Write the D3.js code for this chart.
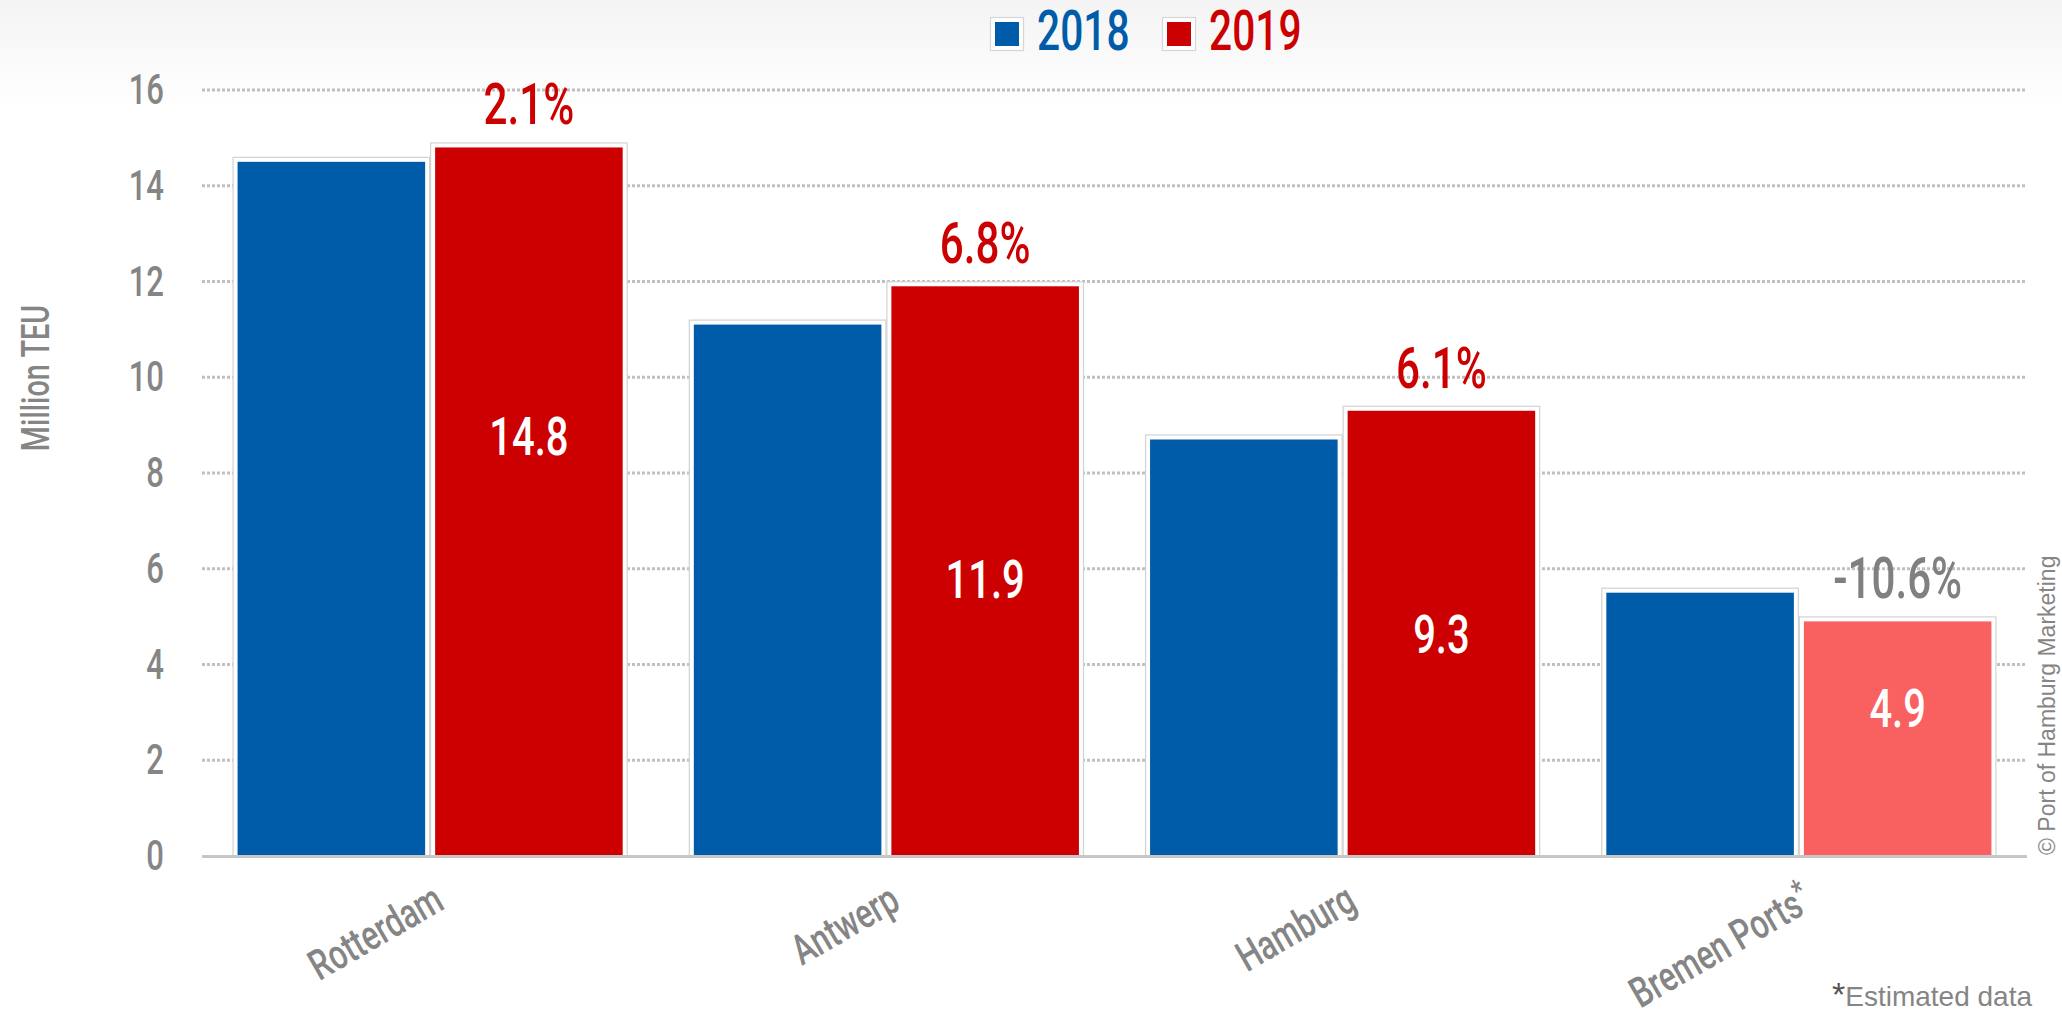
<!DOCTYPE html>
<html>
<head>
<meta charset="utf-8">
<script src="https://cdn.jsdelivr.net/npm/d3@7"></script>
<style>
  html, body { margin: 0; padding: 0; background: #ffffff; overflow: hidden; }
  svg { display: block; }
</style>
</head>
<body>
<svg id="chart" width="2062" height="1014"></svg>
<script>
// ---------- DATA ----------
const categories = ["Rotterdam", "Antwerp", "Hamburg", "Bremen Ports"];
const estimated = [false, false, false, true];
const seriesNames = ["2018", "2019"];
const values2018 = [14.5, 11.1, 8.7, 5.5];
const values2019 = [14.8, 11.9, 9.3, 4.9];
const changeLabels = ["2.1%", "6.8%", "6.1%", "-10.6%"];
const valueLabels2019 = ["14.8", "11.9", "9.3", "4.9"];
const yTicks = [0, 2, 4, 6, 8, 10, 12, 14, 16];
const yTitle = "Million TEU";
const footnote = "Estimated data";
const copyright = "© Port of Hamburg Marketing";

// ---------- STYLE ----------
const BLUE = "#005ca9", RED = "#cc0000", SALMON = "#f96060";
const GREY = "#858585";
const COND = 0.74; // horizontal squeeze to imitate a condensed face
const FONT = "Roboto, 'Liberation Sans', sans-serif";
const SANS = "'Liberation Sans', Arial, sans-serif";

const svg = d3.select("#chart");

// subtle top gradient
const defs = svg.append("defs");
const grad = defs.append("linearGradient").attr("id", "topg").attr("x1", 0).attr("x2", 0).attr("y1", 0).attr("y2", 1);
grad.append("stop").attr("offset", "0%").attr("stop-color", "#f4f4f4");
grad.append("stop").attr("offset", "100%").attr("stop-color", "#ffffff");
svg.append("rect").attr("x", 0).attr("y", 0).attr("width", 2062).attr("height", 110).attr("fill", "url(#topg)");

// ---------- SCALES ----------
const plotLeft = 202, plotRight = 2027, plotBottom = 856, plotTop = 90;
const y = d3.scaleLinear().domain([0, 16]).range([plotBottom, plotTop]);
const x0 = d3.scaleBand().domain(categories).range([plotLeft, plotRight])
  .paddingInner(0.134).paddingOuter(0.067);
const x1 = d3.scaleBand().domain(seriesNames).range([0, x0.bandwidth()]).padding(0);

function condText(sel, x, y, rot, size) {
  return sel.attr("transform", `translate(${x},${y}) rotate(${rot || 0}) scale(${COND},1)`)
    .attr("font-size", size).attr("font-family", FONT).attr("font-weight", 500);
}

// ---------- GRID ----------
const grid = svg.append("g");
grid.selectAll("line").data(yTicks.filter(t => t > 0)).join("line")
  .attr("x1", plotLeft).attr("x2", plotRight)
  .attr("y1", d => y(d)).attr("y2", d => y(d))
  .attr("stroke", "#c0c0c0").attr("stroke-width", 3).attr("stroke-dasharray", "3,2");

// ---------- Y AXIS LABELS ----------
const yAxisG = svg.append("g");
yTicks.forEach(t => {
  condText(yAxisG.append("text"), 164, y(t) + 14, 0, 42)
    .attr("text-anchor", "end").attr("fill", GREY).text(t);
});
condText(svg.append("text"), 49, 378, -90, 39)
  .attr("text-anchor", "middle").attr("fill", GREY).text(yTitle);

// ---------- BARS ----------
const inset = 5;
const rows = categories.map((c, i) => ({
  cat: c, i,
  bars: [
    { s: "2018", v: values2018[i], color: BLUE },
    { s: "2019", v: values2019[i], color: changeLabels[i].startsWith("-") ? SALMON : RED }
  ]
}));

const groups = svg.append("g").selectAll("g").data(rows).join("g")
  .attr("transform", d => `translate(${x0(d.cat)},0)`);

groups.each(function (row) {
  const g = d3.select(this);
  row.bars.forEach(b => {
    const bx = x1(b.s), bw = x1.bandwidth();
    g.append("rect")
      .attr("x", bx + 0.5).attr("y", y(b.v) - inset + 0.5)
      .attr("width", bw - 1).attr("height", plotBottom - y(b.v) + inset)
      .attr("fill", "#ffffff").attr("stroke", "#d2d2d2").attr("stroke-width", 1.2);
    g.append("rect")
      .attr("x", bx + inset).attr("y", y(b.v))
      .attr("width", bw - 2 * inset).attr("height", plotBottom - y(b.v))
      .attr("fill", b.color);
  });
});

// axis baseline
svg.append("line").attr("x1", plotLeft).attr("x2", plotRight)
  .attr("y1", plotBottom + 0.5).attr("y2", plotBottom + 0.5)
  .attr("stroke", "#c6c6c6").attr("stroke-width", 3);

// ---------- LABELS ON BARS ----------
const labelFrac = [0.566, 0.453, 0.456, 0.55]; // baseline height of value label as a fraction of bar
rows.forEach((row, i) => {
  const cx = x0(row.cat) + x1("2019") + x1.bandwidth() / 2;
  const v = values2019[i];
  const neg = changeLabels[i].startsWith("-");
  condText(svg.append("text"), cx, y(v) - inset - 18, 0, 57)
    .attr("text-anchor", "middle").attr("fill", neg ? "#808080" : RED)
    .text(changeLabels[i]);
  condText(svg.append("text"), cx, y(v * labelFrac[i]), 0, 54)
    .attr("text-anchor", "middle").attr("fill", "#ffffff")
    .text(valueLabels2019[i]);
});

// ---------- X AXIS LABELS ----------
rows.forEach((row, i) => {
  const cx = x0(row.cat) + x0.bandwidth() / 2;
  const t = condText(svg.append("text"), cx + 16, 908, -30, 42)
    .attr("text-anchor", "end").attr("fill", GREY);
  t.append("tspan").text(row.cat);
  if (estimated[i]) t.append("tspan").attr("baseline-shift", "38%").attr("font-size", 32).text("*");
});

// ---------- LEGEND ----------
const legend = svg.append("g");
const legendItems = [
  { name: seriesNames[0], color: BLUE, x: 990 },
  { name: seriesNames[1], color: RED, x: 1162 }
];
legendItems.forEach(it => {
  legend.append("rect").attr("x", it.x + 0.5).attr("y", 17.5).attr("width", 33).attr("height", 33)
    .attr("fill", "#ffffff").attr("stroke", "#d6d6d6").attr("stroke-width", 1.2);
  legend.append("rect").attr("x", it.x + 5).attr("y", 22).attr("width", 24).attr("height", 24)
    .attr("fill", it.color);
  condText(legend.append("text"), it.x + 47, 50, 0, 55)
    .attr("fill", it.color).text(it.name);
});

// ---------- FOOTNOTE & COPYRIGHT ----------
const fn = svg.append("text").attr("x", 1832).attr("y", 1006).attr("font-family", SANS).attr("fill", GREY);
fn.append("tspan").attr("font-size", 34).attr("fill", "#555555").text("*");
fn.append("tspan").attr("font-size", 28).text(footnote);

svg.append("text").attr("transform", "translate(2055,855) rotate(-90)")
  .attr("font-family", SANS).attr("font-size", 23).attr("fill", GREY)
  .text(copyright);
</script>
</body>
</html>
